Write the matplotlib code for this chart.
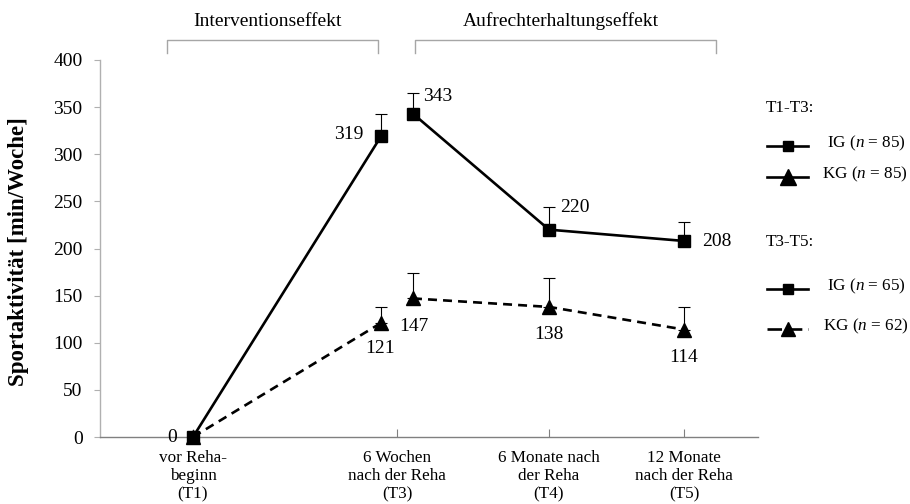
import matplotlib
matplotlib.use("Agg")
import matplotlib.pyplot as plt
from matplotlib.lines import Line2D

plt.rcParams["font.family"] = ["Liberation Serif", "DejaVu Serif"]
plt.rcParams["mathtext.fontset"] = "custom"
plt.rcParams["mathtext.rm"] = "Liberation Serif"
plt.rcParams["mathtext.it"] = "Liberation Serif:italic"

# Measurement points and values (min/Woche)
time_labels = ["vor Reha-\nbeginn\n(T1)", "6 Wochen\nnach der Reha\n(T3)",
               "6 Monate nach\nder Reha\n(T4)", "12 Monate\nnach der Reha\n(T5)"]
ig_t1_t3 = [0, 319]
kg_t1_t3 = [0, 121]
ig_t3_t5 = [343, 220, 208]
kg_t3_t5 = [147, 138, 114]
ig_t1_t3_err = [0, 24]
kg_t1_t3_err = [0, 17]
ig_t3_t5_err = [22, 24, 20]
kg_t3_t5_err = [27, 31, 24]
y_ticks = [0, 50, 100, 150, 200, 250, 300, 350, 400]

legend_groups = ["T1-T3:", "T3-T5:"]
legend_labels = ["IG ($n$ = 85)", "KG ($n$ = 85)", "IG ($n$ = 65)", "KG ($n$ = 62)"]
phase_labels = ["Interventionseffekt", "Aufrechterhaltungseffekt"]

# Layout on the category axis
cat_x = [0.93, 2.97, 4.49, 5.84]
shift = 0.16
x_first = [cat_x[0], cat_x[1] - shift]
x_second = [cat_x[1] + shift, cat_x[2], cat_x[3]]

W, H = 910, 504
fig = plt.figure(figsize=(W / 100, H / 100), dpi=100)
ax = fig.add_axes([100 / W, 1 - 437 / H, 658 / W, 377 / H])
ax.set_xlim(0, 6.58)
ax.set_ylim(0, 400)

lw = 1.9
dash = (3.4, 2.3)
sq = dict(marker="s", markersize=8.5, color="black")
tri = dict(marker="^", markersize=10, color="black")
eb = dict(fmt="none", ecolor="black", elinewidth=0.8, capsize=4.5, capthick=0.8)

# Upper error bars only
ax.errorbar(x_first, ig_t1_t3, yerr=[[0] * 2, ig_t1_t3_err], **eb)
ax.errorbar(x_first, kg_t1_t3, yerr=[[0] * 2, kg_t1_t3_err], **eb)
ax.errorbar(x_second, ig_t3_t5, yerr=[[0] * 3, ig_t3_t5_err], **eb)
ax.errorbar(x_second, kg_t3_t5, yerr=[[0] * 3, kg_t3_t5_err], **eb)

ax.plot(x_first, kg_t1_t3, linestyle=(0, dash), lw=lw, clip_on=False, zorder=3, **tri)
ax.plot(x_second, kg_t3_t5, linestyle=(0, dash), lw=lw, clip_on=False, zorder=3, **tri)
ax.plot(x_first, ig_t1_t3, linestyle="-", lw=lw, clip_on=False, zorder=4, **sq)
ax.plot(x_second, ig_t3_t5, linestyle="-", lw=lw, clip_on=False, zorder=4, **sq)

# Value labels (offsets in pixels)
lab = dict(textcoords="offset pixels", fontsize=14, va="center")
ax.annotate(f"{ig_t1_t3[0]}", (x_first[0], ig_t1_t3[0]), xytext=(-21, 0), ha="center", **lab)
ax.annotate(f"{ig_t1_t3[1]}", (x_first[1], ig_t1_t3[1]), xytext=(-18, 2), ha="right", **lab)
ax.annotate(f"{kg_t1_t3[1]}", (x_first[1], kg_t1_t3[1]), xytext=(-1, -26), ha="center", **lab)
ax.annotate(f"{ig_t3_t5[0]}", (x_second[0], ig_t3_t5[0]), xytext=(10, 17), ha="left", **lab)
ax.annotate(f"{ig_t3_t5[1]}", (x_second[1], ig_t3_t5[1]), xytext=(11, 22), ha="left", **lab)
ax.annotate(f"{ig_t3_t5[2]}", (x_second[2], ig_t3_t5[2]), xytext=(18, -1), ha="left", **lab)
ax.annotate(f"{kg_t3_t5[0]}", (x_second[0], kg_t3_t5[0]), xytext=(-14, -28), ha="left", **lab)
ax.annotate(f"{kg_t3_t5[1]}", (x_second[1], kg_t3_t5[1]), xytext=(0, -28), ha="center", **lab)
ax.annotate(f"{kg_t3_t5[2]}", (x_second[2], kg_t3_t5[2]), xytext=(0, -28), ha="center", **lab)

# Axes styling
for s in ["top", "right"]:
    ax.spines[s].set_visible(False)
ax.spines["left"].set_color("#b0b0b0")
ax.spines["bottom"].set_color("#808080")
ax.spines["left"].set_linewidth(1.0)
ax.spines["bottom"].set_linewidth(1.0)
ax.set_yticks(y_ticks)
ax.set_yticklabels([str(v) for v in y_ticks], fontsize=14)
ax.tick_params(axis="y", direction="out", length=4.5, width=0.8, color="#b0b0b0", pad=8)
ax.set_xticks(cat_x)
ax.set_xticklabels(time_labels, fontsize=12.3, linespacing=1.22)
ax.tick_params(axis="x", direction="in", length=6, width=0.8, color="#808080", pad=9)

fig.text(19 / W, 1 - 252 / H, "Sportaktivität [min/Woche]", rotation=90,
         ha="center", va="center", fontsize=16.5, fontweight="bold")

# Phase brackets above the plot
def fx(px):
    return px / W

def fy(py):
    return 1 - py / H

bracket_color = "#a6a6a6"
for (x0, x1, xt), text in zip([(167, 378, 268), (415, 716, 561)], phase_labels):
    fig.add_artist(Line2D([fx(x0), fx(x0), fx(x1), fx(x1)], [fy(53), fy(40), fy(40), fy(53)],
                          transform=fig.transFigure, color=bracket_color, lw=1.0))
    fig.text(fx(xt), fy(21), text, ha="center", va="center", fontsize=14)

# Legend drawn by hand in figure coordinates
fig.text(fx(766), fy(108), legend_groups[0], ha="left", va="center", fontsize=12.3)
fig.text(fx(766), fy(242), legend_groups[1], ha="left", va="center", fontsize=12.3)

def legend_entry(py, label, text_x, marker, ms, ls, dashes=None):
    ln = Line2D([fx(767), fx(808)], [fy(py), fy(py)], transform=fig.transFigure,
                color="black", lw=lw, linestyle=ls)
    if dashes is not None:
        ln.set_dashes(dashes)
    fig.add_artist(ln)
    fig.add_artist(Line2D([fx(787.5)], [fy(py)], transform=fig.transFigure, marker=marker,
                          markersize=ms, color="black", linestyle="none"))
    fig.text(fx(text_x), fy(py - 3), label, ha="left", va="center", fontsize=12.3)

legend_entry(146, legend_labels[0], 827, "s", 7, "-")
legend_entry(177, legend_labels[1], 822, "^", 12, "-")
legend_entry(289, legend_labels[2], 827, "s", 7, "-")
legend_entry(329, legend_labels[3], 823, "^", 10, "--", dashes=(5.5, 2.2))

fig.savefig("out.png", dpi=100)
